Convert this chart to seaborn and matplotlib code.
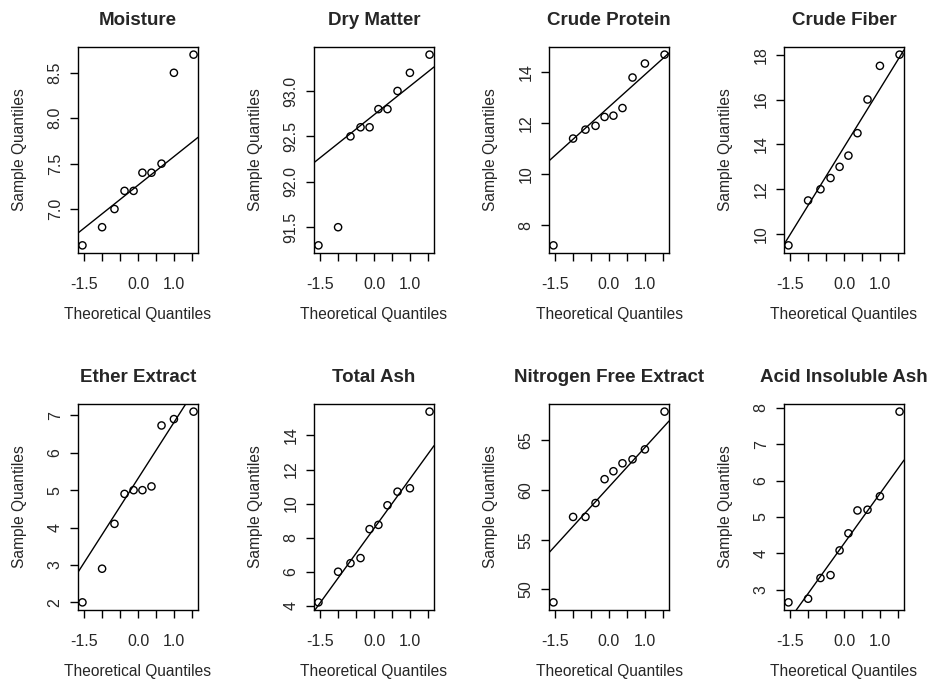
import numpy as np
import pandas as pd
import seaborn as sns
import matplotlib.pyplot as plt

# theoretical normal quantiles for n = 10
theo = [-1.547, -1.000, -0.655, -0.375, -0.123, 0.123, 0.375, 0.655, 1.000, 1.547]

titles = ["Moisture", "Dry Matter", "Crude Protein", "Crude Fiber",
          "Ether Extract", "Total Ash", "Nitrogen Free Extract", "Acid Insoluble Ash"]

moisture = [6.6, 6.8, 7.0, 7.2, 7.2, 7.4, 7.4, 7.5, 8.5, 8.7]
dry_matter = [91.3, 91.5, 92.5, 92.6, 92.6, 92.8, 92.8, 93.0, 93.2, 93.4]
crude_protein = [7.2, 11.4, 11.75, 11.9, 12.25, 12.3, 12.6, 13.8, 14.35, 14.7]
crude_fiber = [9.5, 11.5, 12.0, 12.5, 13.0, 13.5, 14.5, 16.0, 17.5, 18.0]
ether_extract = [2.0, 2.9, 4.1, 4.9, 5.0, 5.0, 5.1, 6.73, 6.9, 7.1]
total_ash = [4.2, 6.0, 6.5, 6.8, 8.5, 8.75, 9.9, 10.7, 10.9, 15.4]
nfe = [48.7, 57.3, 57.3, 58.7, 61.1, 61.9, 62.7, 63.1, 64.1, 67.9]
acid_ash = [2.65, 2.75, 3.32, 3.4, 4.08, 4.55, 5.18, 5.2, 5.57, 7.9]

samples = [moisture, dry_matter, crude_protein, crude_fiber,
           ether_extract, total_ash, nfe, acid_ash]

yticks = [[7.0, 7.5, 8.0, 8.5], [91.5, 92.0, 92.5, 93.0], [8, 10, 12, 14],
          [10, 12, 14, 16, 18], [2, 3, 4, 5, 6, 7], [4, 6, 8, 10, 12, 14],
          [50, 55, 60, 65], [3, 4, 5, 6, 7, 8]]
yfmt = ["%.1f", "%.1f", "%d", "%d", "%d", "%d", "%d", "%d"]

xticks = [-1.5, -1.0, -0.5, 0.0, 0.5, 1.0, 1.5]
xticklabels = ["-1.5", "", "", "0.0", "", "1.0", ""]

sns.set_style("ticks")
plt.rcParams['font.family'] = ['Liberation Sans', 'DejaVu Sans']

W, H = 931, 679
fig = plt.figure(figsize=(W / 100, H / 100), dpi=100)

lefts = [78, 314, 549, 784]
bottoms = [253, 610]
aw, ah = 120, 206

q25, q75 = -0.6745, 0.6745

for i, (name, y) in enumerate(zip(titles, samples)):
    r, c = divmod(i, 4)
    ax = fig.add_axes([lefts[c] / W, 1 - bottoms[r] / H, aw / W, ah / H])
    df = pd.DataFrame({"theo": theo, "sample": y})
    sns.scatterplot(data=df, x="theo", y="sample", ax=ax, marker="o",
                    s=27, facecolor="none", edgecolor="black", linewidth=1.0)
    # qqline through the quartiles
    yq1, yq3 = np.quantile(y, [0.25, 0.75])
    slope = (yq3 - yq1) / (q75 - q25)
    ax.axline((q25, yq1), slope=slope, color="black", linewidth=1.0)

    xr = max(theo) - min(theo)
    ax.set_xlim(min(theo) - 0.04 * xr, max(theo) + 0.04 * xr)
    yr = max(y) - min(y)
    ax.set_ylim(min(y) - 0.04 * yr, max(y) + 0.04 * yr)

    ax.set_xticks(xticks)
    ax.set_xticklabels(xticklabels)
    ax.set_yticks(yticks[i])
    ax.set_yticklabels([yfmt[i] % v for v in yticks[i]], rotation=90, va="center")
    ax.tick_params(axis="both", length=6, width=1, labelsize=11.5, color="black",
                   direction="out")
    ax.tick_params(axis="x", pad=11)
    ax.tick_params(axis="y", pad=5)
    for sp in ax.spines.values():
        sp.set_visible(True)
        sp.set_linewidth(1.0)
        sp.set_color("black")

    ax.set_title(name, fontsize=13.5, fontweight="bold", pad=16)
    ax.set_xlabel("Theoretical Quantiles", fontsize=11.2, labelpad=11)
    ax.set_ylabel("Sample Quantiles", fontsize=11.2, labelpad=15)

fig.savefig("out.png", dpi=100, facecolor="white")
